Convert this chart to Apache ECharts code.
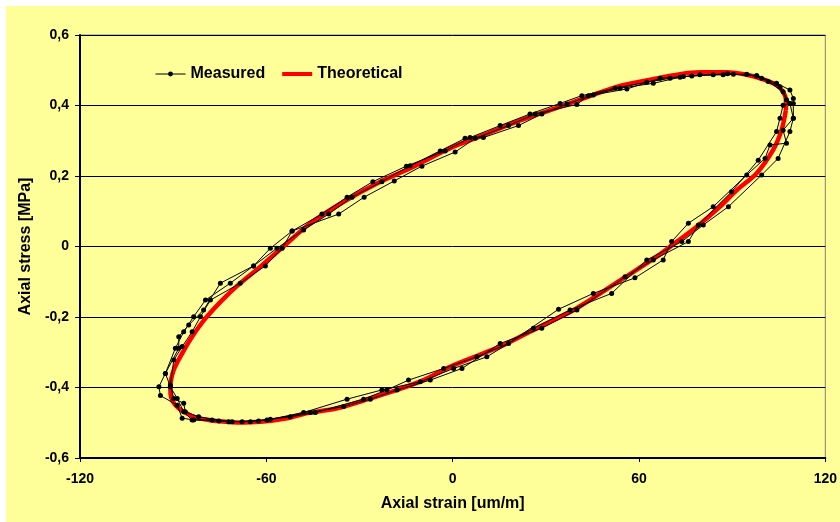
<!DOCTYPE html>
<html>
<head>
    <meta charset="utf-8">
    <title>Axial stress vs strain</title>
    <script src="https://cdn.jsdelivr.net/npm/echarts@6/dist/echarts.min.js"></script>
</head>
<body style="margin:0">
    <div id="main" style="width:840px;height:522px;"></div>
    <script type="text/javascript">
        var strainTicks = [-120, -60, 0, 60, 120];
        var stressTicks = [-0.6, -0.4, -0.2, 0, 0.2, 0.4, 0.6];
        var seriesNames = ['Measured', 'Theoretical'];

        // theoretical loop [strain um/m, stress MPa]
        var theoretical = [
            [107.3, 0.387], [107.3, 0.416], [106.4, 0.439], [104.3, 0.458], [100.0, 0.474],
            [94.7, 0.487], [88.2, 0.494], [79.6, 0.494], [73.2, 0.489], [65.7, 0.477],
            [52.8, 0.453], [42.1, 0.420], [31.4, 0.387], [20.7, 0.354], [9.9, 0.316],
            [-0.8, 0.279], [-13.7, 0.222], [-24.4, 0.179], [-35.1, 0.127], [-45.8, 0.066],
            [-54.5, 0.000], [-61.9, -0.057], [-68.4, -0.104], [-74.2, -0.152], [-79.6, -0.204],
            [-83.9, -0.256], [-87.1, -0.303], [-89.8, -0.350], [-90.9, -0.398], [-90.7, -0.426],
            [-89.3, -0.450], [-86.6, -0.469], [-82.3, -0.486], [-75.9, -0.495], [-69.4, -0.499],
            [-61.9, -0.497], [-53.3, -0.487], [-48.0, -0.475], [-37.2, -0.459], [-26.5, -0.431],
            [-17.9, -0.407], [-9.4, -0.379], [-0.8, -0.341], [9.9, -0.303], [17.5, -0.275],
            [27.1, -0.232], [40.0, -0.175], [55.0, -0.090], [65.7, -0.029], [72.2, 0.014],
            [78.6, 0.056], [86.1, 0.113], [91.5, 0.160], [97.9, 0.208], [103.2, 0.274],
            [105.9, 0.330], [107.3, 0.387]
        ];

        // measured cycles
        var measuredLoop1 = [
            [109.7, 0.420], [108.6, 0.444], [104.3, 0.463], [97.9, 0.485], [90.4, 0.489],
            [83.9, 0.487], [74.3, 0.482], [66.8, 0.477], [56.1, 0.447], [45.3, 0.430],
            [36.8, 0.404], [28.7, 0.376], [21.2, 0.343], [9.9, 0.309], [4.0, 0.307],
            [-4.0, 0.271], [-13.7, 0.229], [-22.8, 0.184], [-32.4, 0.140], [-39.9, 0.092],
            [-48.0, 0.047], [-56.6, -0.005], [-64.1, -0.055], [-71.6, -0.104], [-79.6, -0.152],
            [-83.4, -0.199], [-86.6, -0.242], [-89.3, -0.289], [-92.5, -0.360], [-94.6, -0.398],
            [-94.1, -0.423], [-88.7, -0.450], [-87.1, -0.487], [-83.4, -0.492], [-75.3, -0.495],
            [-67.8, -0.497], [-59.8, -0.492], [-48.0, -0.471], [-34.0, -0.433], [-22.8, -0.407],
            [-10.4, -0.384], [0.3, -0.346], [11.0, -0.313], [26.0, -0.232], [37.8, -0.180],
            [51.2, -0.133], [62.5, -0.038], [73.8, 0.014], [80.7, 0.061], [88.8, 0.113],
            [99.5, 0.203], [104.8, 0.250], [108.6, 0.326], [109.7, 0.364], [109.7, 0.406]
        ];
        var measuredLoop2 = [
            [107.5, 0.416], [105.4, 0.453], [99.5, 0.477], [94.7, 0.489], [87.1, 0.487],
            [79.6, 0.487], [73.2, 0.480], [64.6, 0.463], [53.9, 0.449], [43.7, 0.428],
            [40.0, 0.403], [26.6, 0.376], [18.0, 0.343], [7.3, 0.307], [0.8, 0.268],
            [-9.9, 0.228], [-18.8, 0.186], [-28.5, 0.140], [-36.7, 0.092], [-51.7, 0.044],
            [-54.9, -0.005], [-60.3, -0.055], [-68.4, -0.104], [-78.0, -0.152], [-81.2, -0.199],
            [-83.9, -0.242], [-87.1, -0.284], [-89.8, -0.322], [-90.9, -0.393], [-89.8, -0.431],
            [-86.6, -0.445], [-86.1, -0.469], [-81.8, -0.483], [-72.1, -0.497], [-65.1, -0.497],
            [-58.7, -0.490], [-45.8, -0.471], [-35.1, -0.454], [-26.5, -0.433], [-17.9, -0.407],
            [-7.2, -0.379], [3.0, -0.346], [15.3, -0.275], [28.7, -0.232], [40.0, -0.180],
            [55.5, -0.086], [64.6, -0.038], [75.9, 0.014], [79.1, 0.061], [89.8, 0.155],
            [98.4, 0.245], [104.3, 0.326], [105.4, 0.364], [106.4, 0.401]
        ];
        var measuredLoop3 = [
            [108.6, 0.406], [106.4, 0.439], [101.6, 0.468], [97.9, 0.484], [88.5, 0.490],
            [77.0, 0.484], [70.0, 0.477], [62.5, 0.466], [52.3, 0.449], [41.6, 0.428],
            [34.6, 0.406], [24.9, 0.376], [15.3, 0.343], [5.6, 0.309], [-2.4, 0.271],
            [-14.9, 0.228], [-25.7, 0.184], [-34.0, 0.140], [-42.1, 0.092], [-51.7, 0.044],
            [-58.7, -0.005], [-64.1, -0.055], [-74.8, -0.104], [-80.2, -0.180], [-85.0, -0.223],
            [-88.2, -0.256], [-88.2, -0.289], [-92.5, -0.360], [-90.9, -0.398], [-88.7, -0.431],
            [-86.6, -0.469], [-83.9, -0.492], [-77.5, -0.492], [-71.0, -0.497], [-62.5, -0.495],
            [-52.3, -0.483], [-44.2, -0.471], [-28.7, -0.433], [-21.2, -0.407], [-14.2, -0.379],
            [-2.9, -0.346], [7.8, -0.313], [18.0, -0.275], [34.1, -0.178], [45.3, -0.133],
            [58.7, -0.089], [67.8, -0.038], [70.5, 0.014], [75.9, 0.066], [83.9, 0.113],
            [94.7, 0.203], [100.6, 0.250], [102.2, 0.288], [107.5, 0.293], [106.4, 0.330],
            [109.7, 0.364], [108.6, 0.406]
        ];

        var measured = measuredLoop1.concat(measuredLoop2, measuredLoop3);

        var font = 'Liberation Sans, Arial, sans-serif';
        var myChart = echarts.init(document.getElementById('main'));

        option = {
            backgroundColor: '#ffffff',
            animation: false,
            graphic: [{
                type: 'rect',
                z: -10,
                shape: { x: 6, y: 6, width: 834, height: 516 },
                style: { fill: '#FFFF99' }
            }],
            legend: {
                left: 155,
                top: 66,
                padding: 0,
                itemWidth: 30,
                itemHeight: 6,
                itemGap: 15,
                data: [
                    { name: seriesNames[0], lineStyle: { width: 1 } },
                    { name: seriesNames[1], itemStyle: { opacity: 0 }, lineStyle: { width: 4 } }
                ],
                textStyle: { fontFamily: font, fontWeight: 'bold', fontSize: 16, color: '#000' }
            },
            grid: {
                left: 80,
                right: 14,
                top: 35,
                bottom: 64,
                show: true,
                borderColor: '#808080',
                borderWidth: 1
            },
            xAxis: {
                type: 'value',
                min: strainTicks[0],
                max: strainTicks[strainTicks.length - 1],
                interval: 60,
                name: 'Axial strain [um/m]',
                nameLocation: 'middle',
                nameGap: 38,
                nameTextStyle: { fontFamily: font, fontWeight: 'bold', fontSize: 16, color: '#000' },
                axisLine: { onZero: false, lineStyle: { color: '#000', width: 2 } },
                axisTick: { length: 4, lineStyle: { color: '#000' } },
                axisLabel: { margin: 14, fontFamily: font, fontWeight: 'bold', fontSize: 14, color: '#000' },
                splitLine: { show: false }
            },
            yAxis: {
                type: 'value',
                min: stressTicks[0],
                max: stressTicks[stressTicks.length - 1],
                interval: 0.2,
                name: 'Axial stress [MPa]',
                nameLocation: 'middle',
                nameGap: 39,
                nameTextStyle: { fontFamily: font, fontWeight: 'bold', fontSize: 16, color: '#000' },
                axisLine: { show: true, onZero: false, lineStyle: { color: '#000', width: 2 } },
                axisTick: { show: true, length: 5, lineStyle: { color: '#000' } },
                axisLabel: {
                    margin: 11,
                    fontFamily: font, fontWeight: 'bold', fontSize: 14, color: '#000',
                    formatter: function (v) {
                        if (Math.abs(v) < 1e-9) return '0';
                        return v.toFixed(1).replace('.', ',');
                    }
                },
                splitLine: { show: true, lineStyle: { color: '#000', width: 1 } }
            },
            series: [
                {
                    name: 'Measured',
                    type: 'line',
                    data: measured,
                    z: 3,
                    symbol: 'circle',
                    symbolSize: 5,
                    showSymbol: true,
                    itemStyle: { color: '#000' },
                    lineStyle: { color: '#000', width: 1 }
                },
                {
                    name: 'Theoretical',
                    type: 'line',
                    data: theoretical,
                    z: 2,
                    smooth: 0.3,
                    showSymbol: false,
                    symbol: 'none',
                    itemStyle: { color: '#ff0000' },
                    lineStyle: { color: '#ff0000', width: 4.5 }
                }
            ]
        };
        myChart.setOption(option);
    </script>
</body>
</html>
